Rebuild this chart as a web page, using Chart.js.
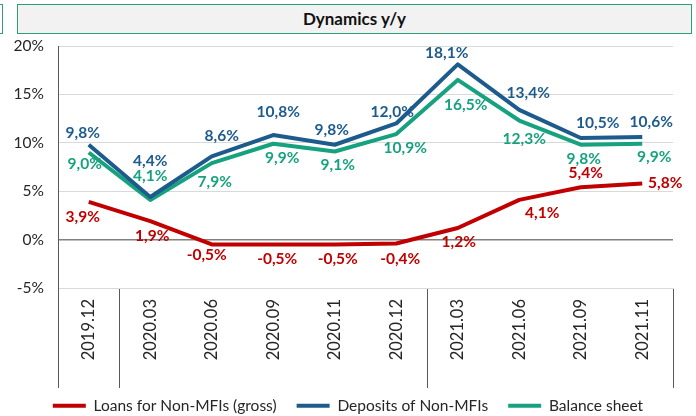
<!DOCTYPE html>
<html>
<head>
<meta charset="utf-8">
<script src="https://cdn.jsdelivr.net/npm/chart.js@4.4.1/dist/chart.umd.min.js"></script>
<style>
  body { margin: 0; background: #fff; }
  #wrap { position: relative; width: 696px; height: 416px; }
  #myChart { position: absolute; left: 0; top: 0; }
  .box { position: absolute; top: 4px; height: 28px; border: 1.5px solid #2e9e78; background: #f2f2f2; }
  #title { left: 17px; width: 673px; font: bold 17px Lato, sans-serif; color: #111; text-align: center; line-height: 28px; }
  #stub { left: -10px; width: 11px; background: #fff; }
</style>
</head>
<body>
<div id="wrap">
  <canvas id="myChart" width="696" height="416"></canvas>
  <div class="box" id="stub"></div>
  <div class="box" id="title">Dynamics y/y</div>
</div>
<script>
var categories = ['2019.12', '2020.03', '2020.06', '2020.09', '2020.11', '2020.12', '2021.03', '2021.06', '2021.09', '2021.11'];
var loans = [3.9, 1.9, -0.5, -0.5, -0.5, -0.4, 1.2, 4.1, 5.4, 5.8];
var deposits = [9.8, 4.4, 8.6, 10.8, 9.8, 12.0, 18.1, 13.4, 10.5, 10.6];
var balance = [9.0, 4.1, 7.9, 9.9, 9.1, 10.9, 16.5, 12.3, 9.8, 9.9];
var yTicks = [-5, 0, 5, 10, 15, 20];

var red = '#c00000', blue = '#1d5b8c', green = '#17a27f';

// where each value label sits relative to its point (dx, dy)
var labelShift = [
    [[-6, 15], [2, 15], [-5, 11], [4, 15], [3, 15], [4, 16], [1, 14], [23, 13], [5, -14], [23, 0]],
    [[-6, -12], [0, -36], [10, -20], [5, -23], [-3, -15], [-4, -11], [-11, -11], [9, -17], [17, -15], [9, -15]],
    [[-4, 12], [0, -24], [3, 19], [9, 14], [3, 13], [9, 14], [8, 25], [5, 18], [3, 14], [12, 13]]
];

var valueLabels = {
    id: 'valueLabels',
    afterDatasetsDraw: function(chart) {
        var ctx = chart.ctx;
        ctx.save();
        ctx.font = 'bold 15.5px Lato, sans-serif';
        ctx.textAlign = 'center';
        ctx.textBaseline = 'middle';
        chart.data.datasets.forEach(function(ds, d) {
            var meta = chart.getDatasetMeta(d);
            ctx.fillStyle = ds.borderColor;
            meta.data.forEach(function(pt, i) {
                var s = labelShift[d][i];
                var txt = ds.data[i].toFixed(1).replace('.', ',') + '%';
                ctx.fillText(txt, pt.x + s[0], pt.y + s[1]);
            });
        });
        ctx.restore();
    }
};

var groupEdges = [0, 1, 6];

var ctx = document.getElementById('myChart').getContext('2d');
var chart = new Chart(ctx, {
    type: 'line',
    data: {
        labels: categories,
        datasets: [
            { label: 'Loans for Non-MFIs (gross)', data: loans, borderColor: red, backgroundColor: red },
            { label: 'Deposits of Non-MFIs', data: deposits, borderColor: blue, backgroundColor: blue },
            { label: 'Balance sheet', data: balance, borderColor: green, backgroundColor: green }
        ]
    },
    options: {
        responsive: false,
        animation: false,
        devicePixelRatio: 1,
        layout: { padding: { top: 46, right: 0, left: 0, bottom: 0 } },
        elements: {
            line: { borderWidth: 4, tension: 0, borderJoinStyle: 'round' },
            point: { radius: 0 }
        },
        scales: {
            x: {
                offset: true,
                afterFit: function(s) { s.height = 90; },
                grid: {
                    offset: true,
                    drawOnChartArea: false,
                    drawTicks: true,
                    tickLength: 100,
                    lineWidth: 1,
                    color: function(c) {
                        if (c.type !== 'tick' || groupEdges.indexOf(c.index) >= 0) return '#595959';
                        return 'rgba(0,0,0,0)';
                    }
                },
                border: { color: '#d9d9d9' },
                ticks: {
                    minRotation: 90,
                    maxRotation: 90,
                    autoSkip: false,
                    padding: -89,
                    color: '#262626',
                    font: { family: 'Lato', size: 16.5 }
                }
            },
            y: {
                min: -5,
                max: 20,
                afterFit: function(s) { s.width = 58; },
                afterBuildTicks: function(s) { s.ticks = yTicks.map(function(v) { return { value: v }; }); },
                grid: {
                    drawTicks: false,
                    color: function(c) { return c.tick && c.tick.value === 0 ? '#808080' : '#d9d9d9'; },
                    lineWidth: function(c) { return c.tick && c.tick.value === 0 ? 1.5 : 1; }
                },
                border: { color: '#595959' },
                ticks: {
                    padding: 14,
                    color: '#262626',
                    font: { family: 'Lato', size: 15.5 },
                    callback: function(v) { return v + '%'; }
                }
            },
            // empty right-hand strip so the plot ends where the reference does
            yRight: {
                position: 'right',
                afterFit: function(s) { s.width = 23; },
                grid: { display: false },
                border: { display: false },
                ticks: { display: false }
            }
        },
        plugins: {
            legend: {
                position: 'bottom',
                maxHeight: 38,
                labels: {
                    boxWidth: 33,
                    boxHeight: 4,
                    padding: 20,
                    color: '#262626',
                    font: { family: 'Lato', size: 15.5 },
                    generateLabels: function(chart) {
                        return Chart.defaults.plugins.legend.labels.generateLabels(chart).map(function(l) {
                            l.lineWidth = 0;
                            return l;
                        });
                    }
                }
            },
            tooltip: { enabled: false }
        }
    },
    plugins: [valueLabels]
});
</script>
</body>
</html>
